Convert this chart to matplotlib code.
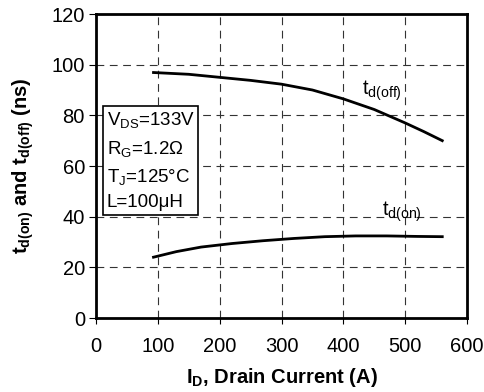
import numpy as np
import matplotlib
matplotlib.use("Agg")
import matplotlib.pyplot as plt
from matplotlib import rc
rc('font', **{'family': 'Liberation Sans', 'size': 11})
rc('mathtext', **{'fontset': 'custom', 'rm': 'Liberation Sans',
                  'it': 'Liberation Sans', 'bf': 'Liberation Sans:bold'})

id_off = [93, 150, 200, 250, 300, 350, 400, 450, 500, 530, 560]
td_off = [96.9, 96.2, 95.0, 93.8, 92.3, 90.0, 86.5, 82.3, 77.0, 73.6, 70.0]
id_on = [93, 130, 170, 220, 270, 320, 370, 420, 470, 520, 560]
td_on = [24.0, 26.2, 28.0, 29.4, 30.5, 31.4, 32.1, 32.4, 32.4, 32.2, 32.1]

fig = plt.figure(figsize=(4.84, 3.92), dpi=100)
ax = fig.add_axes([96/484, 1 - 318/392, 371/484, 304/392])

ax.plot(id_off, td_off, color="black", lw=2)
ax.plot(id_on, td_on, color="black", lw=2)

ax.set_xlim(0, 600)
ax.set_ylim(0, 120)
ax.set_xticks(np.arange(0, 601, 100))
ax.set_yticks(np.arange(0, 121, 20))
ax.grid(True, color="#333333", linestyle=(0, (7, 5)), lw=0.8)
ax.tick_params(axis="x", direction="out", length=4, pad=10, labelsize=14.5)
ax.tick_params(axis="y", direction="out", length=5, pad=3, labelsize=14.5)
for s in ax.spines.values():
    s.set_linewidth(2)

ax.set_xlabel(r"I$_\mathbf{D}$, Drain Current (A)", fontweight="bold", fontsize=14.5,
              labelpad=7)
ax.set_ylabel(r"t$_\mathbf{d(on)}$ and t$_\mathbf{d(off)}$ (ns)", fontweight="bold",
              fontsize=14.5, labelpad=11)

ax.text(430, 88, r"t$_{\mathrm{d(off)}}$", fontsize=14.5)
ax.text(462, 40.5, r"t$_{\mathrm{d(on)}}$", fontsize=14.5)

ax.text(17, 82.0, "V$_{\\mathrm{DS}}$=133V\nR$_{\\mathrm{G}}$=1.2\u03a9\nT$_{\\mathrm{J}}$=125\u00b0C\nL=100\u03bcH",
        fontsize=13.5, va="top", ha="left", linespacing=1.55,
        bbox=dict(boxstyle="square,pad=0.2", facecolor="white", edgecolor="black", lw=1.2))

plt.savefig("out.png", dpi=100)
